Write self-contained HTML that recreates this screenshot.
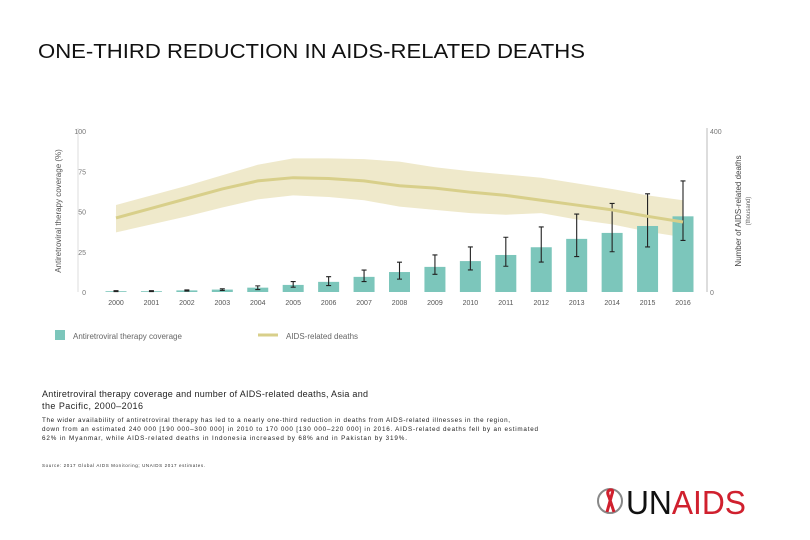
<!DOCTYPE html>
<html><head><meta charset="utf-8"><style>
body{margin:0;background:#fff;width:810px;height:540px;overflow:hidden;font-family:"Liberation Sans",sans-serif}
svg{position:absolute;left:0;top:0}
</style></head><body>
<svg width="810" height="540">
<text x="38" y="58" font-size="20" fill="#111" textLength="547" lengthAdjust="spacingAndGlyphs">ONE-THIRD REDUCTION IN AIDS-RELATED DEATHS</text>
<g id="plot"></g>
<g>
<rect x="55" y="330" width="10" height="10" fill="#7cc6bb"/>
<text x="73" y="339" font-size="8" fill="#666">Antiretroviral therapy coverage</text>
<line x1="258" y1="335" x2="278" y2="335" stroke="#d8cf8a" stroke-width="3"/>
<text x="286" y="339" font-size="8" fill="#666">AIDS-related deaths</text>
</g>
<text x="42" y="397" font-size="9" fill="#222" textLength="326">Antiretroviral therapy coverage and number of AIDS-related deaths, Asia and</text>
<text x="42" y="409" font-size="9" fill="#222" textLength="101">the Pacific, 2000–2016</text>
<g font-size="6.3" fill="#222">
<text x="42" y="422" textLength="468">The wider availability of antiretroviral therapy has led to a nearly one-third reduction in deaths from AIDS-related illnesses in the region,</text>
<text x="42" y="431" textLength="496">down from an estimated 240 000 [190 000–300 000] in 2010 to 170 000 [130 000–220 000] in 2016. AIDS-related deaths fell by an estimated</text>
<text x="42" y="440" textLength="365">62% in Myanmar, while AIDS-related deaths in Indonesia increased by 68% and in Pakistan by 319%.</text>
</g>
<text x="42" y="467" font-size="4.5" fill="#333" textLength="163">Source: 2017 Global AIDS Monitoring; UNAIDS 2017 estimates.</text>
<g>
<circle cx="610" cy="501" r="12" fill="none" stroke="#888" stroke-width="2"/>
<path d="M607 512 L612 494 Q614 489 610 490 Q606 491 609 497 L614 512" fill="none" stroke="#d0202e" stroke-width="3"/>
<text x="626" y="514" font-size="33" fill="#111" textLength="120" lengthAdjust="spacingAndGlyphs">UN<tspan fill="#d0202e">AIDS</tspan></text>
</g>
</svg>
<script>
const years=['2000','2001','2002','2003','2004','2005','2006','2007','2008','2009','2010','2011','2012','2013','2014','2015','2016'];
const coverage=[0.5,0.5,1,1.5,2.7,4.4,6.3,9.4,12.4,15.6,19.2,23,27.8,33,36.7,41,47];
const coverageLow=[0.3,0.3,0.6,1,1.5,3,4,6.5,8,11,13.7,16,18.6,22,25,28,32];
const coverageHigh=[0.8,0.8,1.3,2,3.8,6.5,9.5,13.6,18.5,23,28,34,40.4,48.4,55,61,69];
const deaths=[184,208,232,256,276,284,282,276,264,258,248,240,228,216,204,188,174];
const deathsLow=[148,168,188,210,230,240,236,228,212,204,196,192,196,180,168,150,136];
const deathsHigh=[216,240,264,290,316,332,332,330,324,310,300,292,284,270,256,240,228];
const leftTicks=[0,25,50,75,100];
const rightTicks=[0,400];
const NS='http://www.w3.org/2000/svg';
const plot=document.getElementById('plot');
const y0=292,y1=131,xs=116,xe=683;
const xPos=i=>xs+i*(xe-xs)/(years.length-1);
const yPct=v=>y0-(y0-y1)*v/100;
const yDeaths=v=>y0-(y0-y1)*v/400;
function mk(tag,attrs){const e=document.createElementNS(NS,tag);for(const k in attrs)e.setAttribute(k,attrs[k]);plot.appendChild(e);return e;}
let a=mk('line',{x1:78,y1:y1-3,x2:78,y2:y0,stroke:'#ddd'});


a=mk('line',{x1:707,y1:y1-3,x2:707,y2:y0,stroke:'#bbb'});


leftTicks.forEach(t=>{const e=mk('text',{x:86,y:yPct(t)+3,'font-size':7,fill:'#777','text-anchor':'end'});e.textContent=t;

});
rightTicks.forEach(t=>{const e=mk('text',{x:710,y:yDeaths(t)+3,'font-size':7,fill:'#777'});e.textContent=t;

});
let t=mk('text',{transform:'translate(61,211) rotate(-90)','font-size':8,fill:'#555','text-anchor':'middle'});t.textContent='Antiretroviral therapy coverage (%)';


t=mk('text',{transform:'translate(741,211) rotate(-90)','font-size':8,fill:'#444','text-anchor':'middle'});t.textContent='Number of AIDS-related deaths';


t=mk('text',{transform:'translate(750,211) rotate(-90)','font-size':6,fill:'#666','text-anchor':'middle'});t.textContent='(thousand)';


let d='M'+years.map((_,i)=>xPos(i)+','+yDeaths(deathsHigh[i])).join('L');
for(let i=years.length-1;i>=0;i--)d+='L'+xPos(i)+','+yDeaths(deathsLow[i]);
let band=mk('path',{d:d+'Z',fill:'#efe9cb'});


const bw=21;
years.forEach((yr,i)=>{
 const b=mk('rect',{x:xPos(i)-bw/2,y:yPct(coverage[i]),width:bw,height:y0-yPct(coverage[i]),fill:'#7cc6bb'});
 
 
 const cx=xPos(i);
 const e=mk('path',{d:`M${cx},${yPct(coverageHigh[i])}V${yPct(coverageLow[i])}M${cx-2.5},${yPct(coverageHigh[i])}h5M${cx-2.5},${yPct(coverageLow[i])}h5`,stroke:'#222','stroke-width':1.1,fill:'none'});
 
 
 const l=mk('text',{x:cx,y:305,'font-size':7,fill:'#555','text-anchor':'middle'});l.textContent=yr;
 
 
});
let ln=mk('polyline',{points:years.map((_,i)=>xPos(i)+','+yDeaths(deaths[i])).join(' '),fill:'none',stroke:'#d8cf8a','stroke-width':3});


</script>
</body></html>
